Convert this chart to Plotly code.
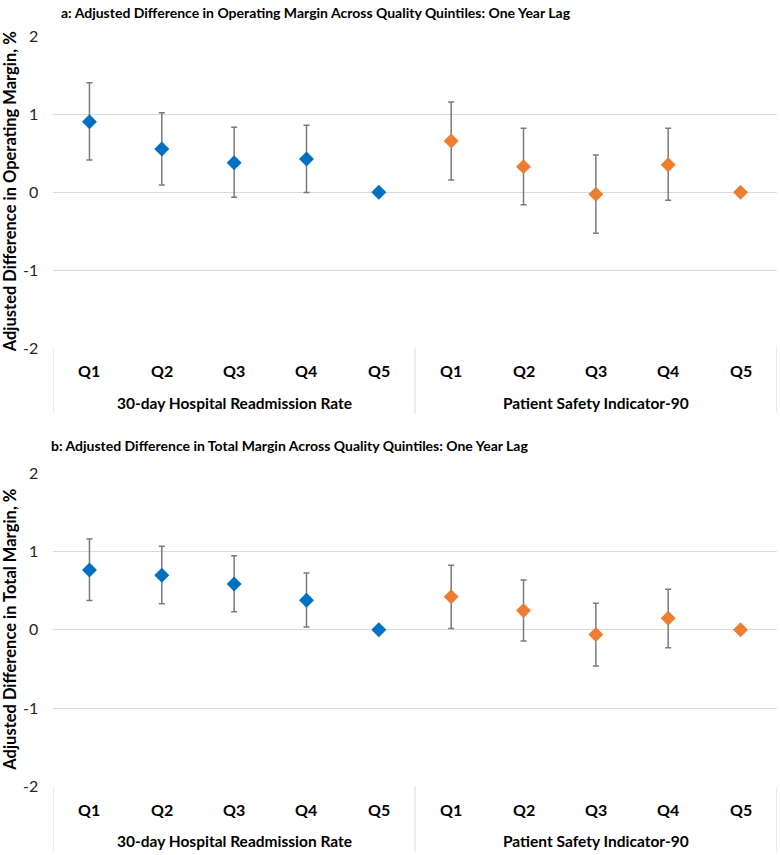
import plotly.graph_objects as go

quintiles = ["Q1", "Q2", "Q3", "Q4", "Q5"]
groups = ["30-day Hospital Readmission Rate", "Patient Safety Indicator-90"]

# Panel a: operating margin
a_readm = [0.905, 0.555, 0.38, 0.427, 0.0]
a_readm_hi = [1.405, 1.02, 0.833, 0.859, 0.0]
a_readm_lo = [0.414, 0.094, -0.064, -0.004, 0.0]
a_psi = [0.658, 0.329, -0.026, 0.354, 0.0]
a_psi_hi = [1.158, 0.82, 0.478, 0.82, 0.0]
a_psi_lo = [0.158, -0.159, -0.526, -0.103, 0.0]

# Panel b: total margin
b_readm = [0.763, 0.695, 0.585, 0.377, 0.0]
b_readm_hi = [1.158, 1.064, 0.945, 0.725, 0.0]
b_readm_lo = [0.373, 0.331, 0.229, 0.034, 0.0]
b_psi = [0.42, 0.246, -0.06, 0.148, 0.0]
b_psi_hi = [0.822, 0.636, 0.338, 0.516, 0.0]
b_psi_lo = [0.017, -0.145, -0.463, -0.229, 0.0]

y_ticks = [-2, -1, 0, 1, 2]

titles = [
    "a: Adjusted Difference in Operating Margin Across Quality Quintiles: One Year Lag",
    "b: Adjusted Difference in Total Margin Across Quality Quintiles: One Year Lag",
]
y_titles = [
    "Adjusted Difference in Operating Margin, %",
    "Adjusted Difference in Total Margin, %",
]

BLUE = "#0070c0"
ORANGE = "#ed7d31"
ERR = "#7a7a7a"
GRID = "#d9d9d9"
FONT = "Lato"

W, H = 780, 855
x_dom = [53.3 / W, 776.7 / W]
panels_px = [(36.3, 348.3), (473.0, 786.5)]  # top, bottom pixel of plot areas
title_px = [(59, 12), (49, 445)]

fig = go.Figure()

panel_data = [
    (a_readm, a_readm_hi, a_readm_lo, a_psi, a_psi_hi, a_psi_lo),
    (b_readm, b_readm_hi, b_readm_lo, b_psi, b_psi_hi, b_psi_lo),
]

n = len(quintiles)
for p, (r, rh, rl, s, sh, sl) in enumerate(panel_data):
    xa = "x" if p == 0 else "x2"
    ya = "y" if p == 0 else "y2"
    for g, (vals, hi, lo, col) in enumerate([(r, rh, rl, BLUE), (s, sh, sl, ORANGE)]):
        xs = [g * n + i for i in range(n)]
        fig.add_trace(go.Scatter(
            x=xs, y=vals, mode="markers", xaxis=xa, yaxis=ya,
            marker=dict(symbol="diamond", size=11.5, color=col, line=dict(width=0)),
            error_y=dict(type="data", symmetric=False,
                         array=[h - v for h, v in zip(hi, vals)],
                         arrayminus=[v - l for v, l in zip(vals, lo)],
                         color=ERR, thickness=1.5, width=3),
            showlegend=False, hoverinfo="skip",
        ))

layout = dict(
    width=W, height=H, margin=dict(l=0, r=0, t=0, b=0, pad=0, autoexpand=False),
    paper_bgcolor="white", plot_bgcolor="white", showlegend=False,
    font=dict(family=FONT, color="#000000"),
)

annotations = []
shapes = []
for p in range(2):
    top, bot = panels_px[p]
    ydom = [1 - bot / H, 1 - top / H]
    sfx = "" if p == 0 else "2"
    layout["xaxis" + sfx] = dict(
        domain=x_dom, range=[-0.5, 2 * n - 0.5], showticklabels=False,
        showgrid=False, zeroline=False, showline=False, ticks="",
        anchor="y" + sfx, fixedrange=True, automargin=False,
    )
    layout["yaxis" + sfx] = dict(
        domain=ydom, range=[-2, 2], tickvals=y_ticks,
        ticktext=[str(v) for v in y_ticks],
        showgrid=True, gridcolor=GRID, gridwidth=1, zeroline=False,
        showline=False, ticks="", ticklabelstandoff=14,
        tickfont=dict(family=FONT, size=16, color="#262626"),
        anchor="x" + sfx, fixedrange=True, automargin=False,
    )
    xref = "x" + sfx
    # chart title
    tx, ty = title_px[p]
    annotations.append(dict(
        text="<b>" + titles[p] + "</b>", x=tx / W, y=1 - ty / H, xref="paper", yref="paper",
        xanchor="left", yanchor="middle", showarrow=False,
        font=dict(family=FONT, size=14, color="#000000"),
    ))
    # y-axis title
    annotations.append(dict(
        text="<b>" + y_titles[p] + "</b>", x=10 / W, y=1 - (top + bot) / 2 / H,
        xref="paper", yref="paper", textangle=-90, xanchor="center", yanchor="middle",
        showarrow=False, font=dict(family=FONT, size=16.5, color="#000000"),
    ))
    # category labels
    for g in range(2):
        for i, q in enumerate(quintiles):
            annotations.append(dict(
                text="<b>" + q + "</b>", x=g * n + i, y=1 - (bot + 22.5) / H,
                xref=xref, yref="paper", xanchor="center", yanchor="middle",
                showarrow=False, font=dict(family=FONT, size=16, color="#000000"),
            ))
        annotations.append(dict(
            text="<b>" + groups[g] + "</b>", x=g * n + (n - 1) / 2, y=1 - (bot + 54.5) / H,
            xref=xref, yref="paper", xanchor="center", yanchor="middle",
            showarrow=False, font=dict(family=FONT, size=15.5, color="#000000"),
        ))
    # category box separators
    for xv in [-0.5, n - 0.5, 2 * n - 0.5]:
        shapes.append(dict(
            type="line", xref=xref, yref="paper", x0=xv, x1=xv,
            y0=1 - bot / H, y1=1 - (bot + 65) / H,
            line=dict(color=GRID, width=1),
        ))

layout["annotations"] = annotations
layout["shapes"] = shapes
fig.update_layout(**layout)

fig.write_html(
    "out.html",
    config={"displayModeBar": False, "staticPlot": True},
    post_script="document.body.style.margin='0';document.body.style.overflow='hidden';",
)
